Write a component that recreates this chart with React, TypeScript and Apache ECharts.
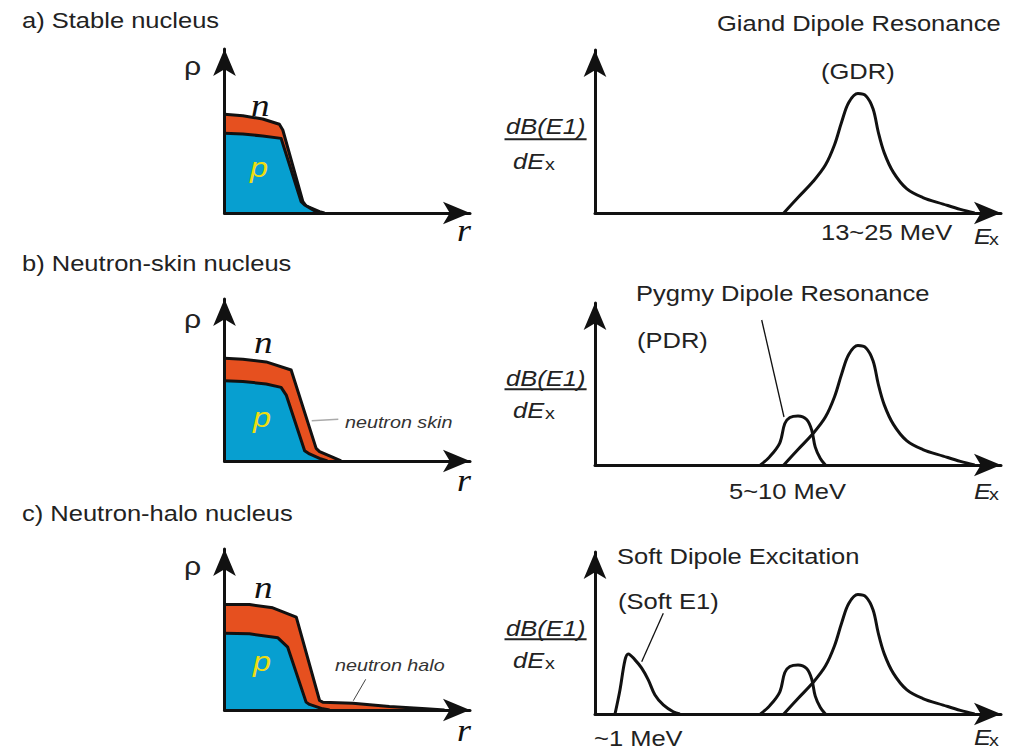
import React, { useEffect, useRef } from 'react';
import * as echarts from 'echarts';

// ---- density profiles (r, rho) ----
const neutronA = [[0, 6.02], [0.75, 5.93], [1.56, 5.73], [2.24, 5.41], [2.38, 5.06], [3.2, 0.69], [3.33, 0.43], [3.88, 0.08], [4.08, 0]];
const protonA = [[0, 4.86], [0.75, 4.81], [1.56, 4.7], [2.31, 4.55], [3.13, 0.69], [3.27, 0.49], [3.74, 0.08], [3.96, 0]];
const neutronB = [[0, 6.26], [0.75, 6.21], [1.7, 6.04], [2.72, 5.55], [3.74, 0.77], [3.88, 0.57], [4.36, 0.26], [4.76, 0]];
const protonB = [[0, 4.9], [0.75, 4.85], [1.7, 4.7], [2.31, 4.49], [2.52, 4.02], [3.27, 0.63], [3.47, 0.43], [3.88, 0.16], [4.2, 0]];
const neutronC = [[0, 6.43], [1.02, 6.43], [1.97, 6.23], [2.93, 5.66], [3.88, 0.58], [4.01, 0.48], [5.24, 0.41], [6.73, 0.21], [8.23, 0.07], [8.98, 0]];
const protonC = [[0, 4.68], [1.02, 4.65], [2.18, 4.4], [2.58, 3.83], [3.33, 0.48], [3.47, 0.34], [4.01, 0.07], [4.29, 0]];

// ---- dB(E1)/dEx strength curves (Ex, strength) ----
const gdr = [[18.6, 0], [20.0, 0.95], [21.5, 1.95], [22.7, 2.95], [23.6, 4.2], [24.3, 5.6], [25.0, 6.8], [25.9, 7.35], [26.7, 7.2], [27.4, 6.4], [27.9, 5.0], [28.5, 3.7], [29.4, 2.5], [30.7, 1.5], [32.3, 0.95], [34.3, 0.55], [36.0, 0.22], [37.4, 0]];
const pdr = [[16.3, 0], [17.2, 0.5], [18.2, 1.35], [18.7, 2.55], [19.2, 2.92], [20.0, 3.02], [20.85, 2.8], [21.35, 2.15], [21.7, 1.1], [22.2, 0.4], [22.7, 0]];
const softE1 = [[1.97, 0], [2.46, 1.48], [2.96, 3.33], [3.28, 3.7], [3.94, 3.33], [4.6, 2.82], [5.25, 2.1], [5.91, 1.17], [6.73, 0.56], [7.71, 0.14], [8.37, 0]];

// ---- texts ----
const panelTitles = ['a) Stable nucleus', 'b) Neutron-skin nucleus', 'c) Neutron-halo nucleus'];
const resonanceTitles = ['Giand Dipole Resonance', 'Pygmy Dipole Resonance', 'Soft Dipole Excitation'];
const resonanceAbbr = ['(GDR)', '(PDR)', '(Soft E1)'];
const energyLabels = ['13~25 MeV', '5~10 MeV', '~1 MeV'];
const skinLabels = ['neutron skin', 'neutron halo'];

// ---- layout ----
const SX = 1.16;
const LEFT_X0 = 224.5, LEFT_X1 = 470, R_PX = 24.5, RHO_PX = 16.4;
const RIGHT_X0 = 595, RIGHT_X1 = 1001, E_PX = 10.15, D_PX = 16.25;
const leftRows = [{ top: 49, bottom: 213 }, { top: 299, bottom: 461 }, { top: 549, bottom: 710 }];
const rightRows = [{ top: 50, bottom: 213 }, { top: 303, bottom: 465 }, { top: 552, bottom: 714 }];

const SANS = '"Liberation Sans", Arial, sans-serif';
const SERIF = '"Liberation Serif", "Times New Roman", serif';
const INK = '#222';

function txt(text: string, x: number, y: number, o: any = {}) {
  return {
    type: 'text', x, y, scaleX: SX, z: 100,
    style: {
      text, fill: o.fill || INK, fontSize: o.size || 22, fontFamily: o.family || SANS,
      fontStyle: o.italic ? 'italic' : 'normal',
      textAlign: 'left', textVerticalAlign: 'middle', align: 'left', verticalAlign: 'middle',
    },
  };
}
function seg(x1: number, y1: number, x2: number, y2: number, stroke = '#111', lineWidth = 1.3) {
  return { type: 'line', z: 100, shape: { x1, y1, x2, y2 }, style: { stroke, lineWidth } };
}

export default function App() {
  const ref = useRef<HTMLDivElement>(null);
  useEffect(() => {
    if (!ref.current) return;
    const chart = echarts.init(ref.current, undefined, { renderer: 'svg' });

    const grids: any[] = [];
    const xAxes: any[] = [];
    const yAxes: any[] = [];
    const axisLine = { show: true, onZero: false, symbol: ['none', 'arrow'], symbolSize: [17, 27], lineStyle: { color: '#111', width: 3 } };
    const common = { type: 'value', min: 0, z: 10, axisTick: { show: false }, axisLabel: { show: false }, splitLine: { show: false }, axisLine };

    leftRows.forEach((r) => {
      const i = grids.length;
      grids.push({ left: LEFT_X0, top: r.top, width: LEFT_X1 - LEFT_X0, height: r.bottom - r.top, outerBoundsMode: 'none' });
      xAxes.push({ ...common, gridIndex: i, max: (LEFT_X1 - LEFT_X0) / R_PX });
      yAxes.push({ ...common, gridIndex: i, max: (r.bottom - r.top) / RHO_PX });
    });
    rightRows.forEach((r) => {
      const i = grids.length;
      grids.push({ left: RIGHT_X0, top: r.top, width: RIGHT_X1 - RIGHT_X0, height: r.bottom - r.top, outerBoundsMode: 'none' });
      xAxes.push({ ...common, gridIndex: i, max: (RIGHT_X1 - RIGHT_X0) / E_PX });
      yAxes.push({ ...common, gridIndex: i, max: (r.bottom - r.top) / D_PX });
    });

    const area = (data: number[][], gi: number, color: string, z: number) => ({
      type: 'line', xAxisIndex: gi, yAxisIndex: gi, data, symbol: 'none', smooth: false, silent: true, z,
      lineStyle: { color: '#111', width: 3, join: 'round' }, areaStyle: { color, opacity: 1 },
    });
    const curve = (data: number[][], gi: number) => ({
      type: 'line', xAxisIndex: gi, yAxisIndex: gi, data, symbol: 'none', smooth: 0.35, silent: true, z: 3,
      lineStyle: { color: '#111', width: 3 },
    });

    const NCOL = '#e6501f';
    const PCOL = '#079fd0';
    const series = [
      area(neutronA, 0, NCOL, 2), area(protonA, 0, PCOL, 3),
      area(neutronB, 1, NCOL, 2), area(protonB, 1, PCOL, 3),
      area(neutronC, 2, NCOL, 2), area(protonC, 2, PCOL, 3),
      curve(gdr, 3),
      curve(pdr, 4), curve(gdr, 4),
      curve(softE1, 5), curve(pdr, 5), curve(gdr, 5),
    ];

    const graphic: any[] = [];
    const titleY = [20.5, 263.5, 513.5];
    const rhoY = [66, 319, 566];
    const nY = [104.5, 341.5, 586.5];
    const nX = [251, 254, 254];
    const pY = [167.7, 417.7, 661.7];
    const pX = [250, 253, 253];
    const rY = [229.9, 479.9, 729.9];
    for (let i = 0; i < 3; i++) {
      graphic.push(txt(panelTitles[i], 22, titleY[i]));
      graphic.push(txt('ρ', 184, rhoY[i], { size: 26 }));
      graphic.push(txt('n', nX[i], nY[i], { size: 32, italic: true, family: SERIF, fill: '#111' }));
      graphic.push(txt('p', pX[i], pY[i], { size: 28, italic: true, fill: '#eedd10' }));
      graphic.push(txt('r', 457, rY[i], { size: 31, italic: true, family: SERIF, fill: '#111' }));
    }
    graphic.push(txt(skinLabels[0], 345, 422, { size: 17, italic: true, fill: '#333' }));
    graphic.push(seg(311.7, 420.7, 338.3, 419.3, '#aaa', 1.5));
    graphic.push(txt(skinLabels[1], 335, 664.5, { size: 17, italic: true, fill: '#333' }));
    graphic.push(seg(365.7, 679.3, 353.3, 700.7, '#444', 1));

    const resTitle = [[717, 23.5], [636, 293.5], [617, 556]];
    const resAbbr = [[821, 71.5], [637, 340.5], [618, 601.5]];
    const enLab = [[821, 232.5], [729, 491.5], [594, 738.5]];
    const dbY = [126.5, 378.5, 628.5];
    const ulY = [139.3, 389.3, 639.3];
    const deY = [161.4, 410, 660];
    const exY = [236.4, 491.4, 737.4];
    for (let i = 0; i < 3; i++) {
      graphic.push(txt(resonanceTitles[i], resTitle[i][0], resTitle[i][1]));
      graphic.push(txt(resonanceAbbr[i], resAbbr[i][0], resAbbr[i][1]));
      graphic.push(txt(energyLabels[i], enLab[i][0], enLab[i][1]));
      graphic.push(txt('dB(E1)', 506, dbY[i], { italic: true }));
      graphic.push(seg(504.5, ulY[i], 586.6, ulY[i], '#222', 2));
      graphic.push(txt('dE', 513, deY[i], { italic: true }));
      graphic.push(txt('x', 545, deY[i] + 3, { size: 17 }));
      graphic.push(txt('E', 974, exY[i], { italic: true }));
      graphic.push(txt('x', 989, exY[i] + 3, { size: 17 }));
    }
    graphic.push(seg(761.7, 320, 784, 417));
    graphic.push(seg(663.3, 613.3, 641.7, 661.7));

    chart.setOption({
      animation: false,
      backgroundColor: '#ffffff',
      grid: grids,
      xAxis: xAxes,
      yAxis: yAxes,
      series,
      graphic,
    });
    return () => chart.dispose();
  }, []);
  return <div ref={ref} style={{ position: 'absolute', left: 0, top: 0, width: 1028, height: 750 }} />;
}
